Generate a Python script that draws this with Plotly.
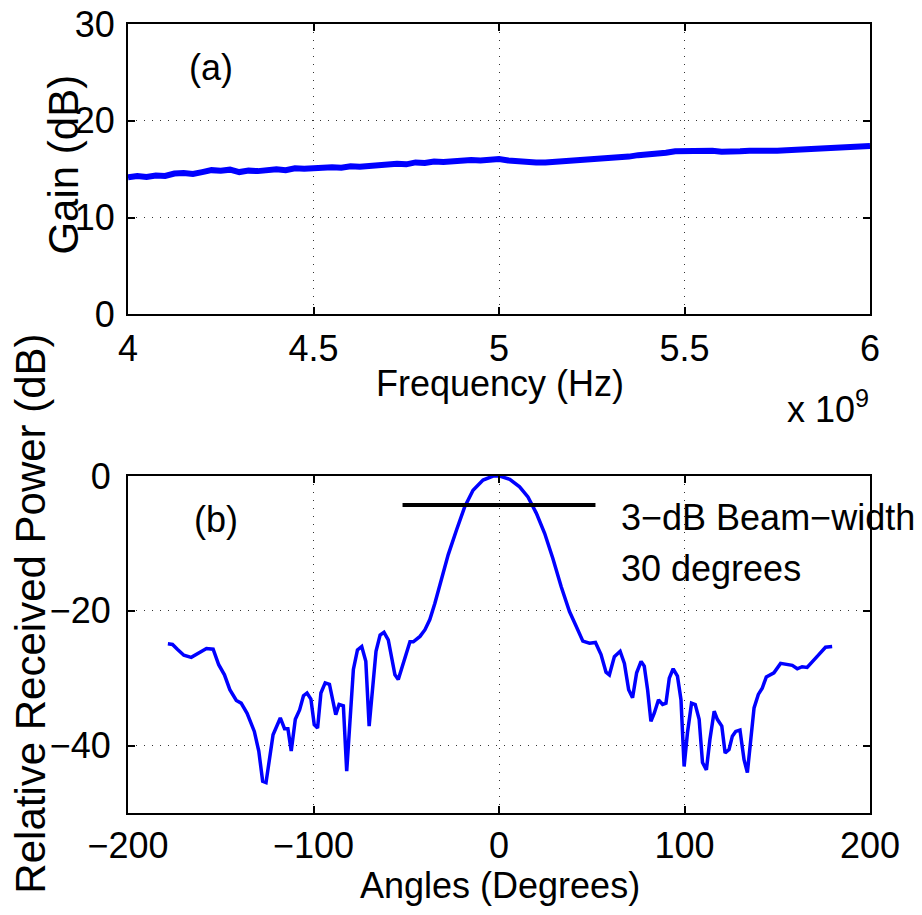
import plotly.graph_objects as go

# ---------------- data ----------------
freq_hz = [4.000e9, 4.025e9, 4.050e9, 4.075e9, 4.100e9, 4.125e9, 4.150e9, 4.175e9, 4.200e9, 4.225e9,
           4.250e9, 4.275e9, 4.300e9, 4.325e9, 4.350e9, 4.375e9, 4.400e9, 4.425e9, 4.450e9, 4.475e9,
           4.500e9, 4.525e9, 4.550e9, 4.575e9, 4.600e9, 4.625e9, 4.650e9, 4.675e9, 4.700e9, 4.725e9,
           4.750e9, 4.775e9, 4.800e9, 4.825e9, 4.850e9, 4.875e9, 4.900e9, 4.925e9, 4.950e9, 4.975e9,
           5.000e9, 5.025e9, 5.050e9, 5.075e9, 5.100e9, 5.125e9, 5.150e9, 5.175e9, 5.200e9, 5.225e9,
           5.250e9, 5.275e9, 5.300e9, 5.325e9, 5.350e9, 5.375e9, 5.400e9, 5.425e9, 5.450e9, 5.475e9,
           5.500e9, 5.525e9, 5.550e9, 5.575e9, 5.600e9, 5.625e9, 5.650e9, 5.675e9, 5.700e9, 5.725e9,
           5.750e9, 5.775e9, 5.800e9, 5.825e9, 5.850e9, 5.875e9, 5.900e9, 5.925e9, 5.950e9, 5.975e9,
           6.000e9]
gain_db = [14.15, 14.30, 14.20, 14.35, 14.30, 14.55, 14.60, 14.50, 14.70, 14.90,
           14.85, 14.95, 14.70, 14.85, 14.80, 14.95, 15.00, 14.90, 15.10, 15.05,
           15.15, 15.10, 15.20, 15.15, 15.30, 15.25, 15.35, 15.30, 15.50, 15.55,
           15.50, 15.70, 15.65, 15.80, 15.75, 15.85, 15.85, 15.95, 15.90, 16.05,
           16.05, 15.90, 15.80, 15.80, 15.70, 15.70, 15.75, 15.85, 15.85, 15.95,
           16.05, 16.05, 16.15, 16.25, 16.30, 16.45, 16.50, 16.60, 16.70, 16.85,
           16.90, 16.90, 16.85, 16.90, 16.80, 16.90, 16.85, 16.90, 16.85, 16.95,
           16.90, 16.95, 17.00, 16.95, 17.05, 17.10, 17.15, 17.25, 17.25, 17.35,
           17.40]

angle_deg = [-178.5, -176.0, -173.4, -169.9, -165.9, -161.8, -157.7, -154.1, -151.1, -148.0,
             -145.1, -141.6, -139.0, -135.8, -131.9, -129.5, -127.4, -125.6, -121.8, -117.9,
             -115.6, -113.8, -112.0, -109.8, -107.5, -105.4, -103.5, -101.4, -99.6, -97.8,
             -96.0, -93.7, -91.4, -88.0, -86.2, -83.9, -82.1, -78.5, -76.3, -74.0,
             -71.8, -70.0, -66.3, -64.1, -62.0, -59.7, -56.1, -54.3, -51.2, -48.0,
             -46.2, -42.6, -39.9, -37.3, -34.6, -31.0, -27.4, -22.9, -18.4, -14.0,
             -8.6, -3.2, 0.4, 5.8, 11.1, 15.6, 20.1, 24.6, 29.0, 33.5,
             38.0, 41.6, 45.2, 48.8, 52.0, 55.0, 57.7, 59.5, 62.2, 65.3,
             67.6, 69.9, 72.0, 74.2, 76.6, 78.3, 80.1, 81.9, 83.7, 86.0,
             88.2, 90.0, 91.8, 93.9, 96.2, 98.1, 99.8, 101.6, 103.8, 105.8,
             107.9, 109.7, 111.8, 113.7, 116.0, 117.7, 120.1, 121.9, 124.0, 125.8,
             127.6, 129.9, 132.1, 133.9, 135.7, 137.5, 139.8, 141.9, 144.1, 148.2,
             151.8, 155.4, 158.1, 160.8, 163.4, 166.1, 168.8, 172.4, 176.0, 179.6]
power_db = [-24.9, -25.0, -25.7, -26.6, -26.9, -26.3, -25.6, -25.7, -28.0, -29.5,
            -31.7, -33.3, -33.7, -35.2, -37.9, -40.8, -45.3, -45.5, -38.4, -35.9,
            -37.5, -37.5, -40.8, -36.1, -34.7, -32.6, -32.2, -33.1, -36.9, -37.4,
            -32.2, -30.7, -30.9, -35.4, -33.9, -34.1, -43.8, -28.7, -25.8, -25.3,
            -27.5, -37.1, -26.0, -23.6, -23.2, -24.3, -29.5, -30.2, -27.3, -24.6,
            -24.6, -23.8, -22.8, -21.3, -18.9, -15.2, -11.7, -8.0, -4.5, -2.1,
            -0.6, 0.0, 0.0, -0.5, -1.6, -3.1, -5.5, -8.5, -12.2, -16.4,
            -20.1, -22.3, -24.5, -24.8, -24.7, -26.5, -29.1, -29.5, -26.8, -26.0,
            -27.8, -31.7, -32.9, -29.2, -27.5, -28.2, -31.7, -36.4, -35.2, -33.2,
            -33.9, -33.7, -30.0, -28.6, -29.7, -33.2, -43.1, -38.1, -33.7, -33.9,
            -36.1, -42.5, -43.6, -39.1, -34.9, -36.1, -37.1, -41.1, -40.6, -38.6,
            -37.9, -37.7, -42.1, -44.0, -38.6, -34.4, -32.4, -31.5, -29.8, -29.2,
            -27.8, -28.0, -28.1, -28.6, -28.3, -28.4, -27.5, -26.5, -25.4, -25.3]

beamwidth_x = [-52, 52]
beamwidth_y = [-4.3, -4.3]

top_xticks = [4.0e9, 4.5e9, 5.0e9, 5.5e9, 6.0e9]
top_xtick_text = ["4", "4.5", "5", "5.5", "6"]
top_yticks = [0, 10, 20, 30]
bot_xticks = [-200, -100, 0, 100, 200]
bot_yticks = [-40, -20, 0]

# ---------------- figure ----------------
FONT = "Liberation Sans, Arial, Helvetica, sans-serif"
BLUE = "#0000ff"
HS = 36  # horizontal text size

fig = go.Figure()
fig.add_trace(go.Scatter(x=freq_hz, y=gain_db, mode="lines",
                         line=dict(color=BLUE, width=6), xaxis="x", yaxis="y",
                         showlegend=False, hoverinfo="skip"))
fig.add_trace(go.Scatter(x=angle_deg, y=power_db, mode="lines",
                         line=dict(color=BLUE, width=3.5), xaxis="x2", yaxis="y2",
                         showlegend=False))
fig.add_trace(go.Scatter(x=beamwidth_x, y=beamwidth_y, mode="lines",
                         line=dict(color="black", width=4), xaxis="x2", yaxis="y2",
                         showlegend=False))

axis_common = dict(
    showline=True, linecolor="black", linewidth=2, mirror="ticks",
    ticks="inside", ticklen=7, tickwidth=1.5, tickcolor="black",
    showgrid=True, gridcolor="#333333", gridwidth=1, griddash="1px,7px",
    zeroline=False, automargin=False,
    tickfont=dict(family=FONT, size=HS, color="black"),
)

fig.update_layout(
    width=922, height=915,
    margin=dict(l=127.5, r=51.5, t=24, b=102),
    paper_bgcolor="white", plot_bgcolor="white",
    font=dict(family=FONT, color="black"),
    xaxis=dict(axis_common, domain=[0, 1], anchor="y", range=[4.0e9, 6.0e9],
               tickvals=top_xticks, ticktext=top_xtick_text, ticklabelstandoff=1),
    yaxis=dict(axis_common, domain=[0.632, 1.0], anchor="x", range=[0, 30],
               tickvals=top_yticks, ticklabelstandoff=4),
    xaxis2=dict(axis_common, domain=[0, 1], anchor="y2", range=[-200, 200],
                tickvals=bot_xticks, ticklabelstandoff=0),
    yaxis2=dict(axis_common, domain=[0, 0.4271], anchor="x2", range=[-50, 0],
                tickvals=bot_yticks, ticklabelstandoff=8),
)

def ann(text, x, y, size=HS, angle=0, xanchor="center", yanchor="middle"):
    fig.add_annotation(text=text, x=x, y=y, xref="paper", yref="paper",
                       showarrow=False, textangle=angle, xanchor=xanchor,
                       yanchor=yanchor, font=dict(family=FONT, size=size, color="black"))

ann("(a)", 0.1124, 0.9455)
ann("(b)", 0.1191, 0.3726)
ann("3\u2212dB Beam\u2212width", 0.6615, 0.3739, xanchor="left")
ann("30 degrees", 0.6615, 0.3105, xanchor="left")
ann("Frequency (Hz)", 0.5013, 0.5440)
ann("Angles (Degrees)", 0.5013, -0.0913)
ann("x 10<sup>9</sup>", 0.8849, 0.5146, xanchor="left")
ann("Gain (dB)", -0.0868, 0.8213, size=42, angle=-90)
ann("Relative Received Power (dB)", -0.1326, 0.2522, size=42, angle=-90)

fig.write_html("out.html")
